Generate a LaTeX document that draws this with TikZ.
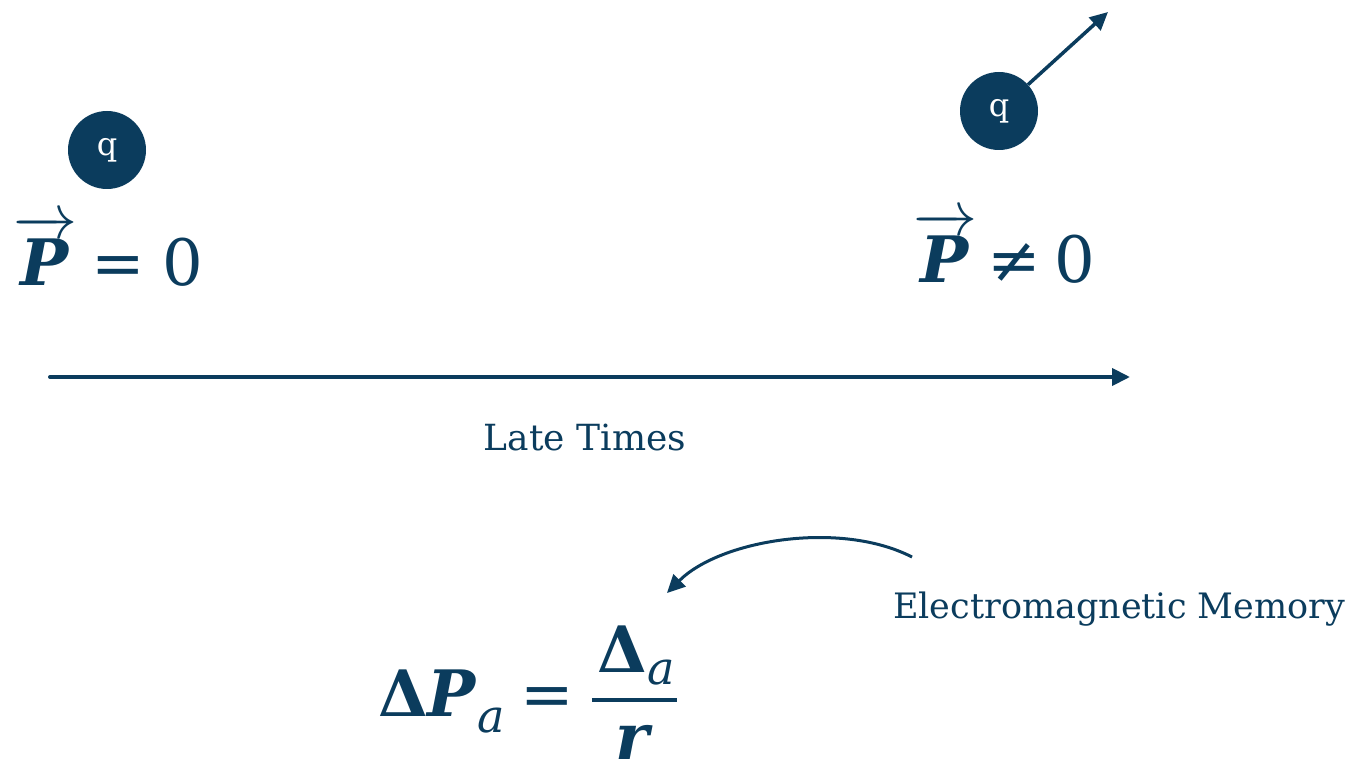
\RequirePackage{fix-cm}
\documentclass[tikz,border=0pt]{standalone}
\usepackage{amsmath}
\usepackage{fontspec}
\setmainfont{DejaVu Serif}
\usetikzlibrary{arrows.meta}
\definecolor{navy}{HTML}{0B3C5D}
\newcommand{\bi}[1]{\textbf{\itshape #1}}
\newcommand{\subA}[1]{\raisebox{#1}{\fontsize{46}{48}\selectfont\itshape a}}
\tikzset{
  charge/.style={circle,fill=navy,minimum size=78pt,inner sep=0pt,text=white,font=\fontsize{32}{34}\selectfont},
  eqn/.style={text=navy,inner sep=0pt,font=\fontsize{64}{70}\selectfont},
  lbl/.style={text=navy,inner sep=0pt,font=\fontsize{36}{40}\selectfont},
  arr/.style={draw=navy,line width=3.5pt,-{Triangle[length=18pt,width=17pt]}}
}
\begin{document}
\begin{tikzpicture}[x=1pt,y=-1pt]
\useasboundingbox (0,0) rectangle (1353,773);
\node[charge] (q1) at (107,150) {q};
\node[charge] (q2) at (999,111) {q};
\coordinate (qv) at (1108,12);
\draw[arr,line width=3.5pt] (q2) -- (qv);
\node[eqn,anchor=base west] (p1) at (13,285) {$\overrightarrow{\text{\bi{P}}}$\hspace{14pt}=\hspace{18pt}0};
\node[eqn,anchor=base west] (p2) at (913,282) {$\overrightarrow{\text{\bi{P}}}$\hspace{10pt}≠\hspace{14pt}0};
\coordinate (t0) at (50,377);
\coordinate (t1) at (1130,377);
\draw[arr,line width=4pt,line cap=round] (t0) -- (t1);
\node[lbl,anchor=base] (late) at (585,450) {Late Times};
\node[lbl,anchor=base west,font=\fontsize{35}{40}\selectfont] (em) at (893,618) {Electromagnetic Memory};
\node[eqn,anchor=base west] (form) at (378,716) {\textbf{Δ}\bi{P}\subA{-16pt}\hspace{16pt}=\hspace{16pt}$\genfrac{}{}{4pt}{0}{\hspace{6pt}\text{\textbf{Δ}\subA{-12pt}}\hspace{2pt}}{\text{\bi{r}}}$};
\coordinate (mt) at (667,593);
\coordinate (ms) at (912,557);
\draw[arr,line width=3pt] (ms) .. controls (840,520) and (720,540) .. (mt);
\end{tikzpicture}
\end{document}
